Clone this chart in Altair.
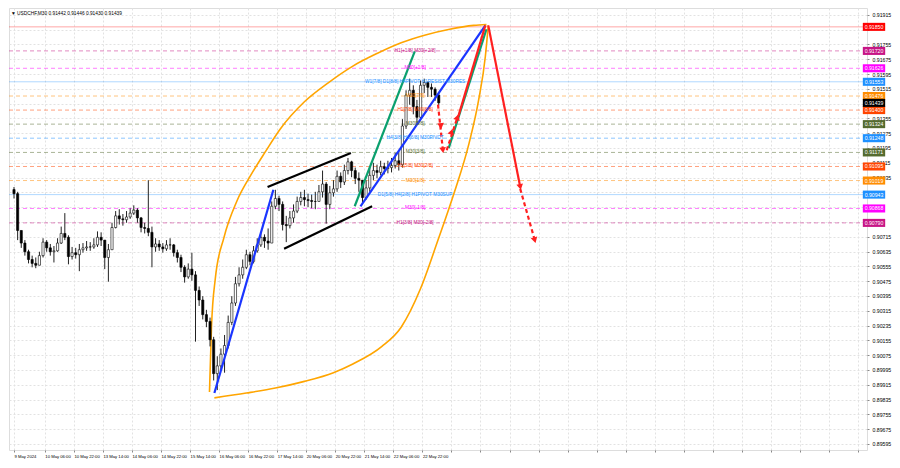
import altair as alt
import pandas as pd
import numpy as np

# ---------------- data ----------------
title_text = "▼  USDCHF,M30  0.91442 0.91446 0.91430 0.91439"
first_open = 0.90970
bar_step_hours = 2

closes = [
    0.90948, 0.90749, 0.90681, 0.90634, 0.90592, 0.90571, 0.90561, 0.90613, 0.90686, 0.90655,
    0.90634, 0.90639, 0.90681, 0.90733, 0.90712, 0.90608, 0.90629, 0.90618, 0.90645, 0.90655,
    0.90660, 0.90660, 0.90671, 0.90712, 0.90697, 0.90603, 0.90645, 0.90765, 0.90828, 0.90812,
    0.90807, 0.90822, 0.90843, 0.90859, 0.90817, 0.90765, 0.90760, 0.90739, 0.90660, 0.90676,
    0.90660, 0.90650, 0.90671, 0.90671, 0.90629, 0.90603, 0.90550, 0.90498, 0.90540, 0.90509,
    0.90425, 0.90373, 0.90294, 0.90257, 0.90158, 0.89975, 0.90017, 0.90080, 0.90127, 0.90252,
    0.90357, 0.90461, 0.90509, 0.90550, 0.90618, 0.90582, 0.90639, 0.90671, 0.90712, 0.90692,
    0.90681, 0.90880, 0.90922, 0.90890, 0.90781, 0.90775, 0.90817, 0.90854, 0.90906, 0.90927,
    0.90916, 0.90911, 0.90906, 0.90906, 0.90958, 0.91000, 0.90890, 0.90953, 0.90974, 0.91042,
    0.91011, 0.91073, 0.91120, 0.91073, 0.91031, 0.91021, 0.90927, 0.90979, 0.91047, 0.91073,
    0.91063, 0.91094, 0.91084, 0.91089, 0.91100, 0.91126, 0.91105, 0.91314, 0.91481, 0.91507,
    0.91419, 0.91361, 0.91534, 0.91549, 0.91523, 0.91513, 0.91481, 0.91439,
]
highs = [
    0.90984, 0.90958, 0.90739, 0.90697, 0.90645, 0.90613, 0.90603, 0.90634, 0.90707, 0.90697,
    0.90676, 0.90665, 0.90707, 0.90770, 0.90843, 0.90723, 0.90660, 0.90655, 0.90676, 0.90681,
    0.90692, 0.90686, 0.90707, 0.90744, 0.90739, 0.90681, 0.90676, 0.90791, 0.90854, 0.90864,
    0.90838, 0.90854, 0.90869, 0.90885, 0.90869, 0.90822, 0.90791, 0.91021, 0.90770, 0.90707,
    0.90697, 0.90681, 0.90697, 0.90707, 0.90676, 0.90645, 0.90618, 0.90561, 0.90571, 0.90629,
    0.90529, 0.90446, 0.90394, 0.90320, 0.90278, 0.90174, 0.90069, 0.90111, 0.90184, 0.90289,
    0.90394, 0.90498, 0.90550, 0.90592, 0.90645, 0.90634, 0.90665, 0.90707, 0.90739, 0.90728,
    0.90760, 0.90906, 0.90969, 0.90937, 0.90906, 0.90828, 0.90854, 0.90890, 0.90932, 0.90958,
    0.90969, 0.90948, 0.90943, 0.90958, 0.90995, 0.91073, 0.91011, 0.90990, 0.91021, 0.91073,
    0.91063, 0.91105, 0.91141, 0.91126, 0.91089, 0.91063, 0.91000, 0.91021, 0.91089, 0.91115,
    0.91105, 0.91126, 0.91115, 0.91126, 0.91141, 0.91168, 0.91178, 0.91351, 0.91507, 0.91570,
    0.91534, 0.91455, 0.91560, 0.91570, 0.91555, 0.91544, 0.91523, 0.91492,
]
lows = [
    0.90922, 0.90697, 0.90655, 0.90613, 0.90571, 0.90550, 0.90545, 0.90561, 0.90603, 0.90634,
    0.90613, 0.90576, 0.90634, 0.90676, 0.90697, 0.90566, 0.90592, 0.90597, 0.90529, 0.90629,
    0.90639, 0.90639, 0.90650, 0.90660, 0.90665, 0.90540, 0.90472, 0.90645, 0.90760, 0.90781,
    0.90775, 0.90791, 0.90812, 0.90833, 0.90791, 0.90739, 0.90733, 0.90718, 0.90550, 0.90634,
    0.90639, 0.90629, 0.90639, 0.90645, 0.90608, 0.90576, 0.90524, 0.90467, 0.90488, 0.90477,
    0.90148, 0.90341, 0.90268, 0.90226, 0.90122, 0.89938, 0.89886, 0.89996, 0.89980, 0.90111,
    0.90237, 0.90341, 0.90446, 0.90488, 0.90540, 0.90561, 0.90571, 0.90629, 0.90660, 0.90655,
    0.90645, 0.90697, 0.90864, 0.90854, 0.90749, 0.90686, 0.90760, 0.90791, 0.90843, 0.90885,
    0.90880, 0.90875, 0.90869, 0.90864, 0.90906, 0.90927, 0.90786, 0.90864, 0.90932, 0.90958,
    0.90979, 0.90995, 0.91052, 0.91037, 0.91000, 0.90958, 0.90890, 0.90916, 0.90958, 0.91021,
    0.91031, 0.91047, 0.91052, 0.91058, 0.91063, 0.91084, 0.91073, 0.91089, 0.91298, 0.91429,
    0.91377, 0.91324, 0.91351, 0.91492, 0.91471, 0.91471, 0.91450, 0.91424,
]

# x axis (hours of trading time from the first bar)
x_label_hours = [0, 17, 33, 49, 65, 81, 97, 113, 129, 145, 161, 177, 193, 209, 225]
x_labels = ["9 May 2024", "10 May 06:00", "10 May 22:00", "13 May 14:00", "14 May 06:00",
            "14 May 22:00", "15 May 14:00", "16 May 06:00", "16 May 22:00", "17 May 14:00",
            "20 May 06:00", "20 May 22:00", "21 May 14:00", "22 May 06:00", "22 May 22:00"]
x_grid_extra = [241, 257, 273, 289, 305, 321, 337, 353, 369, 385, 401, 417, 433, 449, 465]
x_domain = [0, 467.2]

y_ticks = [0.89595, 0.89675, 0.89755, 0.89835, 0.89915, 0.89995, 0.90075, 0.90155, 0.90235,
           0.90315, 0.90395, 0.90475, 0.90555, 0.90635, 0.90715, 0.90795, 0.90875, 0.90955,
           0.91035, 0.91115, 0.91195, 0.91275, 0.91355, 0.91435, 0.91515, 0.91595, 0.91675,
           0.91755, 0.91835, 0.91915]
y_ticks_hidden = [0.91835, 0.91435, 0.90955, 0.90875, 0.90795]   # covered by price boxes
y_domain = [0.89562, 0.91952]

# Murrey-math style levels
level_prices = [0.91850, 0.91720, 0.91626, 0.91553, 0.91476, 0.91400, 0.91324, 0.91248,
                0.91171, 0.91095, 0.91019, 0.90943, 0.90868, 0.90790]
level_texts = ["", "H1[+1/8] M30[+2/8]", "M30[+1/8]", "W1[7/8] D1[8/8] H4PIVOT H1RESIST M30RES",
               "M30[7/8]", "H1[7/8] M30[6/8]", "M30[5/8]", "H4[3/8] H1[6/8] M30PIVOT",
               "M30[3/8]", "H1[5/8] M30[2/8]", "M30[1/8]", "D1[5/8] H4[2/8] H1PIVOT M30SUP",
               "M30[-1/8]", "H1[3/8] M30[-2/8]"]
level_colors = ["#ff0000", "#c71585", "#ff00ff", "#1e90ff", "#ff8c00", "#ff4500", "#556b2f",
                "#1e90ff", "#556b2f", "#ff4500", "#ff8c00", "#1e90ff", "#ff00ff", "#c71585"]
level_solid = [True, False, False, True, False, False, False, False, False, False, False,
               True, False, False]
level_text_hour = 221

current_price = 0.91439

# drawn trend objects (hour, price)
seg_h0 = [110.4, 190.9, 139.7, 148.8, 187.7, 239.5, 244.8, 261.3, 233.6, 238.4, 278.9]
seg_p0 = [0.89870, 0.90880, 0.90984, 0.90650, 0.90880, 0.91194, 0.91366, 0.91858, 0.91429, 0.91183, 0.90974]
seg_h1 = [142.9, 259.7, 185.6, 197.3, 220.8, 260.3, 259.7, 278.9, 236.3, 244.3, 286.9]
seg_p1 = [0.90969, 0.91858, 0.91168, 0.90880, 0.91717, 0.91837, 0.91858, 0.90984, 0.91183, 0.91361, 0.90697]
seg_color = ["#1a35ff", "#1a35ff", "#000000", "#000000", "#0aa06e", "#0aa06e", "#ff2020",
             "#ff2020", "#ff2020", "#ff2020", "#ff2020"]
seg_dashed = [False, False, False, False, False, False, False, False, True, True, True]

arrow_h = [235.2, 236.3, 241.1, 244.3, 278.9, 286.9]
arrow_p = [0.91314, 0.91183, 0.91283, 0.91361, 0.90984, 0.90697]
arrow_shape = ["triangle-down", "triangle-down", "triangle-up", "triangle-up", "triangle-down", "triangle-down"]
arrow_angle = [354, 354, 18, 18, 349, 344]

arc_upper_h = [107.7, 108.8, 110.9, 115.7, 122.7, 130.7, 138.7, 146.7, 160, 173.3, 186.7, 200,
               213.3, 226.7, 240, 253.3, 260.3]
arc_upper_p = [0.89876, 0.90226, 0.90488, 0.90712, 0.90906, 0.91052, 0.91178, 0.91298, 0.91445,
               0.91549, 0.91638, 0.91706, 0.91764, 0.91806, 0.91837, 0.91858, 0.91863]
arc_lower_h = [110.4, 128, 144, 160, 176, 186.7, 202.7, 213.3, 224, 233.6, 242.7, 250.7, 256,
               259.7, 261.3]
arc_lower_p = [0.89844, 0.89870, 0.89897, 0.89933, 0.89980, 0.90027, 0.90122, 0.90226, 0.90435,
               0.90697, 0.90958, 0.91220, 0.91455, 0.91691, 0.91858]

# ---------------- frames ----------------
bars = pd.DataFrame({"close": closes, "high": highs, "low": lows})
bars["h"] = np.arange(len(bars)) * bar_step_hours
bars["open"] = [first_open] + closes[:-1]
bars["high"] = bars[["high", "open", "close"]].max(axis=1)
bars["low"] = bars[["low", "open", "close"]].min(axis=1)
bars["fill"] = np.where(bars["close"] >= bars["open"], "#ffffff", "#000000")

levels = pd.DataFrame({"p": level_prices, "txt": level_texts, "col": level_colors,
                       "solid": level_solid})
levels["h"] = level_text_hour
boxes = pd.DataFrame({"p": level_prices + [current_price],
                      "col": level_colors + ["#000000"]})
boxes["lab"] = boxes["p"].map(lambda v: f"{v:.5f}")
boxes["h"] = x_domain[1]

segs = pd.DataFrame({"h0": seg_h0, "p0": seg_p0, "h1": seg_h1, "p1": seg_p1,
                     "col": seg_color, "dashed": seg_dashed})
arrows = pd.DataFrame({"h": arrow_h, "p": arrow_p, "shape": arrow_shape, "angle": arrow_angle})
arcs = pd.concat([
    pd.DataFrame({"arc": "upper", "h": arc_upper_h, "p": arc_upper_p}),
    pd.DataFrame({"arc": "lower", "h": arc_lower_h, "p": arc_lower_p}),
])

xs = alt.Scale(domain=x_domain, nice=False, zero=False)
ys = alt.Scale(domain=y_domain, nice=False, zero=False)

all_x_ticks = x_label_hours + x_grid_extra
arr_hours = "[" + ",".join(str(v) for v in x_label_hours) + "]"
arr_labels = "[" + ",".join("'" + s + "'" for s in x_labels) + "]"
x_label_expr = (f"indexof({arr_hours}, datum.value) >= 0 ? "
                f"{arr_labels}[indexof({arr_hours}, datum.value)] : ''")
arr_hidden = "[" + ",".join(f"{v:.5f}" for v in y_ticks_hidden) + "]"
y_label_expr = f"indexof({arr_hidden}, datum.value) >= 0 ? '' : format(datum.value, '.5f')"

FONT = "Liberation Sans"

x_axis = alt.Axis(values=all_x_ticks, labelExpr=x_label_expr, labelAlign="left",
                  labelFontSize=4.2, labelColor="#000", labelFont=FONT, labelPadding=2,
                  grid=True, gridColor="#e2e2e2", gridDash=[2, 2], tickSize=2,
                  tickColor="#888", domain=False, title=None, labelOverlap=False,
                  labelFlush=False)
y_axis = alt.Axis(orient="right", values=y_ticks, labelExpr=y_label_expr, labelFontSize=5.2,
                  labelColor="#000", labelFont=FONT, grid=True, gridColor="#e2e2e2",
                  gridDash=[2, 2], tickSize=2, tickColor="#888", domain=False, title=None,
                  labelOverlap=False, labelPadding=3, labelFlush=False)


def X(f):
    return alt.X(f, scale=xs, axis=x_axis)


def Y(f):
    return alt.Y(f, scale=ys, axis=y_axis)


lv_solid = alt.Chart(levels).transform_filter("datum.solid").mark_rule(
    strokeWidth=1, opacity=0.35).encode(
    y=Y("p:Q"), color=alt.Color("col:N", scale=None))
lv_dash = alt.Chart(levels).transform_filter("!datum.solid").mark_rule(
    strokeWidth=1, opacity=0.5, strokeDash=[4, 3]).encode(
    y=Y("p:Q"), color=alt.Color("col:N", scale=None))
lv_text = alt.Chart(levels).mark_text(fontSize=4.8, font=FONT, align="center",
                                      baseline="middle").encode(
    x=X("h:Q"), y=Y("p:Q"), text="txt:N", color=alt.Color("col:N", scale=None))

arc_lines = alt.Chart(arcs).mark_line(color="#ffa500", strokeWidth=1.6,
                                      interpolate="monotone").encode(
    x=X("h:Q"), y=Y("p:Q"), detail="arc:N")

wicks = alt.Chart(bars).mark_rule(strokeWidth=1, color="#222").encode(
    x=X("h:Q"), y=Y("low:Q"), y2="high:Q")
bodies = alt.Chart(bars).mark_bar(width=2.2, stroke="#000", strokeWidth=0.6).encode(
    x=X("h:Q"), y=Y("open:Q"), y2="close:Q", fill=alt.Fill("fill:N", scale=None))

seg_solid = alt.Chart(segs).transform_filter("!datum.dashed").mark_rule(
    strokeWidth=2.2).encode(
    x=X("h0:Q"), y=Y("p0:Q"), x2="h1:Q", y2="p1:Q", color=alt.Color("col:N", scale=None))
seg_dash = alt.Chart(segs).transform_filter("datum.dashed").mark_rule(
    strokeWidth=2.2, strokeDash=[4, 3]).encode(
    x=X("h0:Q"), y=Y("p0:Q"), x2="h1:Q", y2="p1:Q", color=alt.Color("col:N", scale=None))
heads = alt.Chart(arrows).mark_point(filled=True, color="#ff2020", size=45, opacity=1).encode(
    x=X("h:Q"), y=Y("p:Q"), shape=alt.Shape("shape:N", scale=None),
    angle=alt.Angle("angle:Q", scale=None))

box_marks = alt.Chart(boxes).mark_point(
    shape="M-1,-0.36L1,-0.36L1,0.36L-1,0.36Z", size=500, filled=True, opacity=1,
    xOffset=12).encode(
    x=X("h:Q"), y=Y("p:Q"), color=alt.Color("col:N", scale=None))
box_text = alt.Chart(boxes).mark_text(fontSize=5.2, font=FONT, color="white", align="center",
                                      baseline="middle", dx=12).encode(
    x=X("h:Q"), y=Y("p:Q"), text="lab:N")

title = alt.Chart(pd.DataFrame({"t": [title_text]})).mark_text(
    fontSize=4.8, font=FONT, align="left", baseline="top", color="#000").encode(
    x=alt.value(2), y=alt.value(3), text="t:N")

chart = alt.layer(
    lv_solid, lv_dash, arc_lines, wicks, bodies, seg_solid, seg_dash, heads,
    lv_text, box_marks, box_text, title
).properties(
    width=884, height=452,
    autosize=alt.AutoSizeParams(type="fit", contains="padding"),
    padding={"left": 0, "top": 0, "right": 1, "bottom": 1},
).configure_view(stroke="#8c8c8c", strokeWidth=1).configure(background="white")

chart.save("out.html", embed_options={"renderer": "svg", "actions": False})
